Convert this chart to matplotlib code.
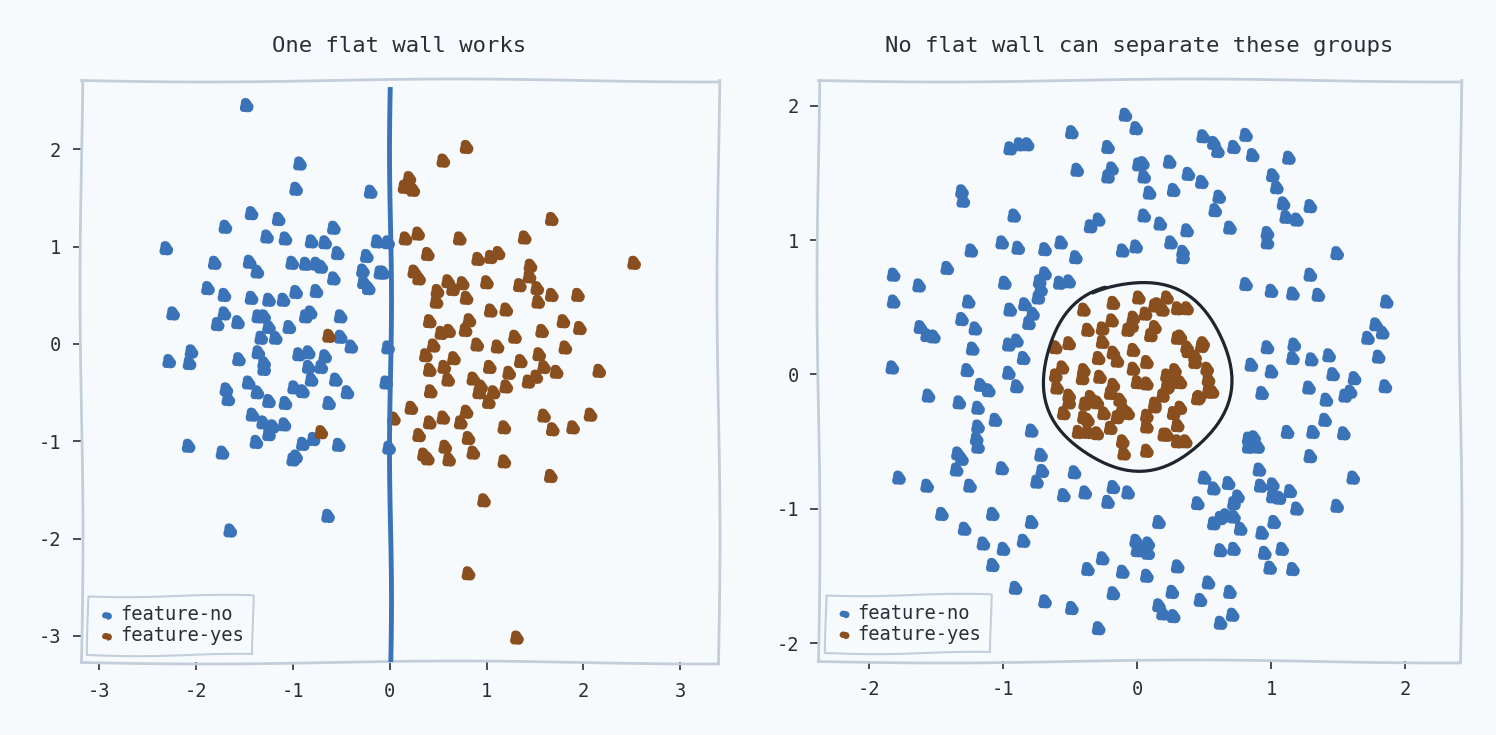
import numpy as np
import matplotlib
matplotlib.use("Agg")
import matplotlib.pyplot as plt


BG = "#f7fafd"
BLUE = "#3b73b8"
BROWN = "#8a4f1f"
SPINE = "#c3ceda"
INK = "#2a2f36"

# left panel: two blobs split by x = 0
left_no = np.array([
    (-1.48, 2.45), (-0.93, 1.85), (-0.97, 1.59), (-0.20, 1.56), (-1.43, 1.34), (-1.15, 1.28),
    (-1.70, 1.20), (-0.58, 1.19), (-1.27, 1.10), (-1.08, 1.08), (-0.81, 1.05), (-0.67, 1.04),
    (-0.13, 1.05), (-2.31, 0.98), (-0.54, 0.93), (-0.24, 0.90), (-1.81, 0.83), (-1.45, 0.84),
    (-1.01, 0.83), (-0.87, 0.82), (-0.76, 0.82), (-0.71, 0.79), (-1.37, 0.74), (-0.28, 0.75),
    (-0.10, 0.73), (-0.58, 0.67), (-1.88, 0.57), (-0.27, 0.63), (-0.22, 0.57), (-1.71, 0.50),
    (-1.43, 0.47), (-1.25, 0.45), (-1.10, 0.45), (-0.97, 0.53), (-0.76, 0.54), (-2.24, 0.31),
    (-1.71, 0.31), (-1.78, 0.20), (-1.57, 0.22), (-1.36, 0.28), (-1.30, 0.28), (-1.25, 0.17),
    (-0.82, 0.32), (-0.87, 0.28), (-0.51, 0.28), (-1.04, 0.17), (-1.33, 0.06), (-1.18, 0.06),
    (-0.51, 0.07), (-0.40, -0.03), (-2.05, -0.08), (-2.28, -0.18), (-2.07, -0.20), (-1.56, -0.16),
    (-1.36, -0.09), (-1.30, -0.20), (-1.30, -0.26), (-0.94, -0.11), (-0.84, -0.09), (-0.84, -0.24),
    (-0.67, -0.13), (-0.71, -0.24), (-0.81, -0.37), (-0.56, -0.37), (-0.04, -0.40), (-1.46, -0.40),
    (-1.37, -0.50), (-1.69, -0.47), (-1.67, -0.57), (-0.99, -0.45), (-0.90, -0.49), (-0.44, -0.50),
    (-1.25, -0.59), (-1.08, -0.61), (-0.63, -0.61), (-1.42, -0.73), (-1.31, -0.81), (-1.21, -0.85),
    (-1.09, -0.83), (-1.25, -0.93), (-1.38, -1.01), (-0.79, -0.98), (-0.90, -1.03), (-0.53, -1.04),
    (-2.08, -1.05), (-1.73, -1.12), (-0.97, -1.16), (-1.00, -1.19), (-0.01, -1.07), (-0.64, -1.77),
    (-1.65, -1.92), (-0.02, 1.04), (-0.02, -0.04), (-0.07, 0.73),
])

left_yes = np.array([
    (-0.63, 0.08), (-0.71, -0.91), (0.04, -0.77), (0.79, 2.02), (0.55, 1.88), (0.20, 1.70),
    (0.15, 1.61), (0.24, 1.58), (1.67, 1.28), (0.16, 1.08), (0.29, 1.13), (0.72, 1.08),
    (1.39, 1.09), (2.52, 0.83), (0.39, 0.92), (0.91, 0.87), (1.04, 0.89), (1.12, 0.93),
    (0.25, 0.74), (0.30, 0.67), (1.45, 0.80), (1.44, 0.69), (0.60, 0.64), (0.65, 0.56),
    (0.49, 0.54), (0.75, 0.62), (1.00, 0.63), (1.34, 0.60), (1.52, 0.57), (1.53, 0.43),
    (1.67, 0.50), (1.94, 0.50), (0.79, 0.47), (0.48, 0.43), (1.04, 0.34), (1.20, 0.35),
    (0.41, 0.23), (0.82, 0.24), (0.78, 0.14), (0.53, 0.11), (0.61, 0.13), (1.79, 0.23),
    (1.96, 0.16), (1.57, 0.13), (1.29, 0.07), (0.90, -0.01), (0.45, -0.02), (1.11, -0.03),
    (1.81, -0.04), (0.37, -0.12), (0.66, -0.15), (1.54, -0.11), (1.35, -0.18), (0.41, -0.27),
    (0.56, -0.24), (1.03, -0.24), (1.59, -0.24), (2.16, -0.28), (1.23, -0.30), (1.72, -0.29),
    (0.60, -0.37), (0.86, -0.36), (0.94, -0.44), (1.51, -0.34), (1.43, -0.39), (0.42, -0.49),
    (0.92, -0.50), (1.07, -0.50), (1.20, -0.44), (1.02, -0.60), (0.22, -0.66), (0.79, -0.70),
    (0.41, -0.81), (0.55, -0.76), (0.73, -0.81), (1.59, -0.74), (2.07, -0.73), (1.18, -0.86),
    (1.68, -0.88), (1.89, -0.86), (0.30, -0.94), (0.81, -0.97), (0.57, -1.06), (0.35, -1.14),
    (0.39, -1.18), (0.61, -1.19), (0.86, -1.12), (1.18, -1.21), (1.66, -1.36), (0.97, -1.61),
    (0.81, -2.36), (1.31, -3.02),
])

# right panel: ring of "no" around a core of "yes"
right_no = np.array([
    (-0.09, 1.93), (-0.01, 1.83), (-0.49, 1.80), (-0.22, 1.69), (-0.95, 1.68), (-0.88, 1.71),
    (-0.82, 1.71), (-0.45, 1.52), (-0.19, 1.53), (-0.22, 1.47), (0.01, 1.56), (-1.31, 1.36),
    (-1.30, 1.29), (-0.92, 1.18), (-0.35, 1.10), (-0.29, 1.15), (-1.01, 0.98), (-0.89, 0.94),
    (-1.24, 0.92), (-0.69, 0.93), (-0.57, 0.98), (-0.46, 0.87), (-0.11, 0.92), (-0.01, 0.95),
    (-1.82, 0.74), (-1.63, 0.66), (-1.42, 0.79), (-0.99, 0.68), (-0.69, 0.75), (-0.73, 0.69),
    (-0.58, 0.68), (-0.51, 0.69), (-0.72, 0.63), (-0.74, 0.57), (-1.82, 0.54), (-1.26, 0.54),
    (-0.95, 0.48), (-0.84, 0.52), (-0.78, 0.45), (-0.81, 0.38), (-1.31, 0.41), (-1.21, 0.34),
    (-1.62, 0.35), (-1.57, 0.29), (-1.52, 0.28), (-0.96, 0.22), (-0.90, 0.25), (-1.23, 0.19),
    (-0.85, 0.12), (-1.83, 0.05), (-1.27, 0.03), (-0.96, 0.01),
    (0.49, 1.77), (0.57, 1.72), (0.60, 1.66), (0.72, 1.69), (0.81, 1.78), (0.86, 1.63),
    (1.13, 1.61), (0.04, 1.57), (0.24, 1.58), (0.05, 1.47), (0.38, 1.49), (0.48, 1.43),
    (1.01, 1.48), (1.04, 1.39), (0.09, 1.35), (0.27, 1.37), (0.61, 1.32), (0.58, 1.22),
    (1.09, 1.27), (1.29, 1.25), (0.05, 1.18), (0.17, 1.12), (0.37, 1.07), (0.69, 1.09),
    (1.11, 1.17), (1.19, 1.15), (0.97, 1.05), (0.97, 0.98), (0.25, 0.98), (0.34, 0.91),
    (0.34, 0.87), (1.49, 0.90), (1.29, 0.74), (0.81, 0.67), (1.00, 0.62), (1.16, 0.60),
    (1.35, 0.59), (1.86, 0.54), (1.78, 0.37), (1.83, 0.31), (1.72, 0.27), (0.97, 0.20),
    (1.17, 0.22), (0.85, 0.07), (1.16, 0.12), (1.30, 0.11), (1.43, 0.14), (1.80, 0.13),
    (1.00, 0.02), (1.46, 0.00), (1.62, -0.03),
    (-1.56, -0.16), (-1.17, -0.08), (-1.11, -0.12), (-0.90, -0.09), (-1.33, -0.21), (-1.19, -0.25),
    (-1.06, -0.34), (-1.19, -0.39), (-0.79, -0.42), (-1.20, -0.48), (-1.19, -0.54), (-1.34, -0.59),
    (-1.31, -0.63), (-1.35, -0.71), (-1.01, -0.70), (-0.72, -0.60), (-0.71, -0.72), (-0.75, -0.80),
    (-0.47, -0.73), (-1.78, -0.77), (-1.57, -0.83), (-1.25, -0.83), (-0.55, -0.90), (-0.39, -0.88),
    (-0.18, -0.84), (-0.22, -0.95), (-0.07, -0.88), (-1.46, -1.04), (-1.08, -1.04), (-0.79, -1.10),
    (-1.29, -1.15), (-1.15, -1.26), (-1.00, -1.30), (-0.85, -1.24), (-0.01, -1.24), (0.00, -1.31),
    (-1.08, -1.42), (-0.26, -1.37), (-0.37, -1.45), (-0.11, -1.47), (-0.91, -1.59), (-0.18, -1.63),
    (-0.69, -1.69), (-0.49, -1.74), (-0.29, -1.89),
    (0.93, -0.14), (1.28, -0.10), (1.85, -0.09), (1.41, -0.19), (1.55, -0.16), (1.59, -0.13),
    (1.40, -0.34), (1.12, -0.43), (1.31, -0.43), (1.54, -0.44), (0.83, -0.48), (0.87, -0.47),
    (0.83, -0.54), (0.90, -0.54), (1.29, -0.61), (0.91, -0.71), (1.61, -0.77), (0.50, -0.77),
    (0.68, -0.81), (0.57, -0.85), (0.92, -0.83), (1.01, -0.82), (1.14, -0.87), (0.75, -0.91),
    (0.72, -0.96), (1.01, -0.91), (1.06, -0.92), (0.45, -0.96), (1.19, -1.00), (1.49, -0.98),
    (0.62, -1.07), (0.66, -1.05), (0.72, -1.06), (0.57, -1.11), (0.77, -1.15), (1.02, -1.10),
    (0.16, -1.10), (0.93, -1.18), (0.08, -1.26), (0.04, -1.31), (0.08, -1.33), (0.62, -1.31),
    (0.72, -1.30), (0.95, -1.33), (1.08, -1.30), (0.30, -1.43), (0.99, -1.44), (1.16, -1.45),
    (0.07, -1.50), (0.53, -1.55), (0.26, -1.62), (0.69, -1.62), (0.47, -1.68), (0.16, -1.72),
    (0.19, -1.78), (0.27, -1.80), (0.71, -1.79), (0.62, -1.85),
])

right_yes = np.array([
    (-0.18, 0.53), (0.01, 0.57), (0.13, 0.51), (0.22, 0.57), (0.19, 0.48), (0.30, 0.49),
    (0.37, 0.49), (-0.40, 0.48), (-0.03, 0.42), (0.06, 0.45), (-0.19, 0.40), (-0.04, 0.36),
    (-0.07, 0.33), (-0.37, 0.33), (-0.26, 0.34), (0.13, 0.35), (0.10, 0.29), (0.32, 0.28),
    (-0.26, 0.24), (-0.51, 0.23), (-0.61, 0.20), (0.49, 0.23), (0.37, 0.20), (-0.18, 0.16),
    (-0.03, 0.18), (0.43, 0.13), (-0.29, 0.12), (-0.15, 0.10), (0.07, 0.09), (-0.56, 0.05),
    (-0.03, 0.04), (0.28, 0.03), (0.52, 0.04), (-0.61, -0.01), (-0.40, 0.03), (0.22, -0.01),
    (-0.28, -0.02), (0.32, -0.06), (0.00, -0.06), (0.07, -0.07), (-0.18, -0.08), (-0.41, -0.03),
    (0.53, -0.04), (-0.60, -0.10), (0.22, -0.10), (0.56, -0.13), (-0.20, -0.14), (-0.51, -0.16),
    (0.19, -0.16), (0.46, -0.17), (-0.35, -0.17), (-0.13, -0.19), (0.13, -0.22), (-0.39, -0.22),
    (-0.30, -0.21), (-0.51, -0.21), (-0.11, -0.25), (0.32, -0.25), (0.27, -0.29), (-0.55, -0.29),
    (-0.25, -0.29), (-0.07, -0.29), (0.07, -0.31), (-0.40, -0.32), (-0.15, -0.32), (-0.37, -0.34),
    (0.07, -0.39), (-0.20, -0.40), (-0.44, -0.43), (-0.37, -0.43), (-0.30, -0.44), (0.22, -0.45),
    (0.30, -0.50), (0.36, -0.50), (-0.11, -0.50), (0.07, -0.57), (-0.10, -0.59),
    (0.15, 0.52), (0.30, 0.27), (0.48, 0.21), (0.38, 0.17), (0.43, 0.09), (0.27, -0.03),
    (0.53, -0.13), (0.45, -0.18), (0.23, -0.09), (0.13, -0.24), (0.30, -0.38), (0.20, -0.45),
])

# hand drawn boundary around the core
ring_center = (0.0, -0.01)
ring_radius = 0.70

x_ticks_left = [-3, -2, -1, 0, 1, 2, 3]
y_ticks_left = [-3, -2, -1, 0, 1, 2]
x_ticks_right = [-2, -1, 0, 1, 2]
y_ticks_right = [-2, -1, 0, 1, 2]


plt.rcParams["font.family"] = ["DejaVu Sans Mono"]
plt.rcParams["axes.unicode_minus"] = False

BLOB = (1.0, 14, 2)     # lumpy marker outlines
PEN = (1.0, 300, 1)     # long gentle wobble for strokes

fig = plt.figure(figsize=(14.96, 7.35), dpi=100, facecolor=BG)
ax1 = fig.add_axes([0.054, 0.099, 0.426, 0.792])
ax2 = fig.add_axes([0.547, 0.101, 0.429, 0.790])


def style_axis(ax, title, xticks, yticks):
    ax.set_facecolor(BG)
    for spine in ax.spines.values():
        spine.set_color(SPINE)
        spine.set_linewidth(2)
        spine.set_sketch_params(1.5, 500, 1)
    ax.set_xticks(xticks)
    ax.set_yticks(yticks)
    ax.tick_params(colors=INK, labelsize=13.5, length=6, width=1.2, pad=8)
    ax.set_title(title, fontsize=16, color=INK, pad=20)


def blobs(ax, pts, color, label):
    sc = ax.scatter(pts[:, 0], pts[:, 1], s=95, c=[color] * len(pts), label=label,
                    linewidths=0, zorder=3)
    sc.set_sketch_params(*BLOB)
    return sc


blobs(ax1, left_no, BLUE, "feature-no")
blobs(ax1, left_yes, BROWN, "feature-yes")
wall, = ax1.plot([0, 0], [-3.4, 2.62], color=BLUE, linewidth=3.5, zorder=4)
wall.set_sketch_params(*PEN)
ax1.set_xlim(-3.19, 3.39)
ax1.set_ylim(-3.27, 2.71)
style_axis(ax1, "One flat wall works", x_ticks_left, y_ticks_left)

blobs(ax2, right_no, BLUE, "feature-no")
blobs(ax2, right_yes, BROWN, "feature-yes")
theta = np.radians(np.linspace(118, 118 - 368, 200))
ring, = ax2.plot(ring_center[0] + ring_radius * np.cos(theta),
                 ring_center[1] + ring_radius * np.sin(theta),
                 color="#1f252d", linewidth=2.3, zorder=4)
ring.set_sketch_params(1.5, 120, 1)
ax2.set_xlim(-2.38, 2.41)
ax2.set_ylim(-2.13, 2.19)
style_axis(ax2, "No flat wall can separate these groups", x_ticks_right, y_ticks_right)

for ax in (ax1, ax2):
    leg = ax.legend(loc="lower left", fontsize=13.5, markerscale=0.6, handletextpad=0.2,
                    borderaxespad=0.4, borderpad=0.5, labelspacing=0.1, handlelength=1.0,
                    fancybox=False, framealpha=1, facecolor=BG, edgecolor=SPINE)
    frame = leg.get_frame()
    frame.set_linewidth(1.5)
    frame.set_sketch_params(1.2, 200, 1)
    for t in leg.get_texts():
        t.set_color(INK)

fig.savefig("out.png", dpi=100, facecolor=BG)
